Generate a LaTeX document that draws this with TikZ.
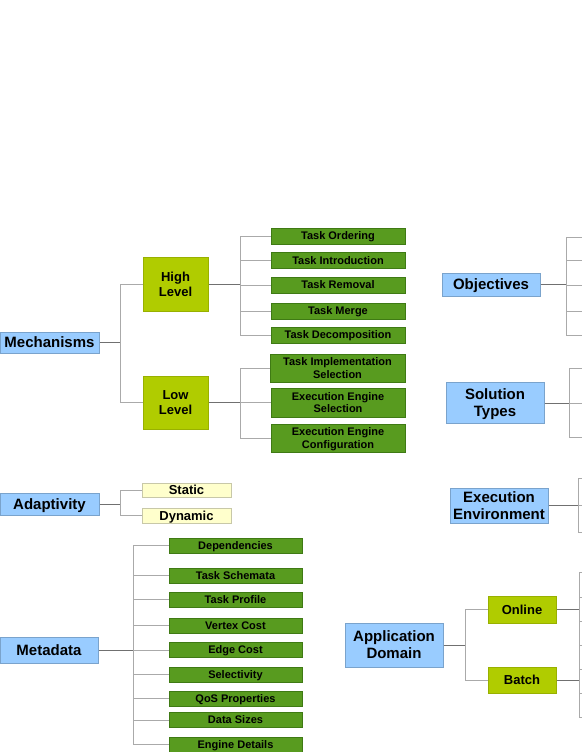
\documentclass[tikz,border=0pt]{standalone}
\usepackage{fontspec}
\setmainfont{Liberation Sans}
\definecolor{bluefill}{HTML}{99CCFF}
\definecolor{blueline}{HTML}{7AA3CC}
\definecolor{limefill}{HTML}{B0CC00}
\definecolor{limeline}{HTML}{98B000}
\definecolor{greenfill}{HTML}{589B1F}
\definecolor{greenline}{HTML}{3F7A14}
\definecolor{yelfill}{HTML}{FFFFCC}
\definecolor{yelline}{HTML}{C8C8A8}
\definecolor{darkconn}{HTML}{707070}
\definecolor{lightconn}{HTML}{AAAAAA}
\tikzset{
  box/.style={draw, line width=1pt, inner sep=0pt, align=center, text=black, text depth=0pt},
  topbox/.style={box, fill=bluefill, draw=blueline, font=\fontsize{15}{17}\selectfont\bfseries},
  midbox/.style={box, fill=limefill, draw=limeline, font=\fontsize{13}{15}\selectfont\bfseries},
  leafbox/.style={box, fill=greenfill, draw=greenline, font=\fontsize{11}{12.7}\selectfont\bfseries},
  yelbox/.style={box, fill=yelfill, draw=yelline, font=\fontsize{13}{15}\selectfont\bfseries},
  oneline15/.style={text height=10.7pt},
  oneline13/.style={text height=9.3pt},
  oneline11/.style={text height=7.9pt},
  parentconn/.style={draw=darkconn, line width=1pt},
  busconn/.style={draw=lightconn, line width=1pt},
}
\begin{document}
\begin{tikzpicture}[x=1pt,y=-1pt]
\useasboundingbox (0,0) rectangle (581,752);
\fill[white] (0,0) rectangle (581,752);

% ---------- Mechanisms ----------
\node[topbox, oneline15, minimum width=99pt, minimum height=21pt] (mech) at (49.5,342.5) {Mechanisms};
\node[midbox, minimum width=65pt, minimum height=54pt] (high) at (175.5,284) {High\\Level};
\node[midbox, minimum width=65pt, minimum height=53pt] (low) at (175.5,402.5) {Low\\Level};
\node[leafbox, oneline11, minimum width=134pt, minimum height=16pt] (h1) at (338,236) {Task Ordering};
\node[leafbox, oneline11, minimum width=134pt, minimum height=16pt] (h2) at (338,260.5) {Task Introduction};
\node[leafbox, oneline11, minimum width=134pt, minimum height=16pt] (h3) at (338,285) {Task Removal};
\node[leafbox, oneline11, minimum width=134pt, minimum height=16pt] (h4) at (338,311) {Task Merge};
\node[leafbox, oneline11, minimum width=134pt, minimum height=16pt] (h5) at (338,335) {Task Decomposition};
\node[leafbox, minimum width=135pt, minimum height=28pt] (l1) at (337.5,368) {Task Implementation\\Selection};
\node[leafbox, minimum width=134pt, minimum height=29pt] (l2) at (338,402.5) {Execution Engine\\Selection};
\node[leafbox, minimum width=134pt, minimum height=28pt] (l3) at (338,438) {Execution Engine\\Configuration};

\coordinate (mechbus) at (120,342.5);
\draw[parentconn] (mech.east) -- (mechbus);
\draw[busconn] (mechbus) |- (high.west);
\draw[busconn] (mechbus) |- (low.west);
\coordinate (highbus) at (240,284);
\draw[parentconn] (high.east) -- (highbus);
\foreach \c in {h1,h2,h3,h4,h5} \draw[busconn] (highbus) |- (\c.west);
\coordinate (lowbus) at (240,402.5);
\draw[parentconn] (low.east) -- (lowbus);
\foreach \c in {l1,l2,l3} \draw[busconn] (lowbus) |- (\c.west);

% ---------- Adaptivity ----------
\node[topbox, oneline15, minimum width=99pt, minimum height=22pt] (adap) at (49.5,504) {Adaptivity};
\node[yelbox, oneline13, minimum width=89pt, minimum height=14pt] (stat) at (186.5,490) {Static};
\node[yelbox, oneline13, minimum width=89pt, minimum height=15pt] (dyn) at (186.5,515.5) {Dynamic};
\coordinate (adapbus) at (120,504);
\draw[parentconn] (adap.east) -- (adapbus);
\draw[busconn] (adapbus) |- (stat.west);
\draw[busconn] (adapbus) |- (dyn.west);

% ---------- Metadata ----------
\node[topbox, oneline15, minimum width=98pt, minimum height=26pt] (meta) at (49,650) {Metadata};
\node[leafbox, oneline11, minimum width=133pt, minimum height=15pt] (m1) at (235.5,545.5) {Dependencies};
\node[leafbox, oneline11, minimum width=133pt, minimum height=15pt] (m2) at (235.5,575.5) {Task Schemata};
\node[leafbox, oneline11, minimum width=133pt, minimum height=15pt] (m3) at (235.5,599.5) {Task Profile};
\node[leafbox, oneline11, minimum width=133pt, minimum height=15pt] (m4) at (235.5,625.5) {Vertex Cost};
\node[leafbox, oneline11, minimum width=133pt, minimum height=15pt] (m5) at (235.5,650) {Edge Cost};
\node[leafbox, oneline11, minimum width=133pt, minimum height=15pt] (m6) at (235.5,674.5) {Selectivity};
\node[leafbox, oneline11, minimum width=133pt, minimum height=15pt] (m7) at (235.5,698.5) {QoS Properties};
\node[leafbox, oneline11, minimum width=133pt, minimum height=15pt] (m8) at (235.5,720) {Data Sizes};
\node[leafbox, oneline11, minimum width=133pt, minimum height=15pt] (m9) at (235.5,744.5) {Engine Details};
\coordinate (metabus) at (133,650);
\draw[parentconn] (meta.east) -- (metabus);
\foreach \c in {m1,m2,m3,m4,m5,m6,m7,m8,m9} \draw[busconn] (metabus) |- (\c.west);

% ---------- Objectives ----------
\node[topbox, oneline15, minimum width=98pt, minimum height=23pt] (obj) at (491,284.5) {Objectives};
\coordinate (objbus) at (566,284.5);
\coordinate (o1) at (590,237);
\coordinate (o2) at (590,260);
\coordinate (o3) at (590,285);
\coordinate (o4) at (590,311);
\coordinate (o5) at (590,335);
\draw[parentconn] (obj.east) -- (objbus);
\foreach \c in {o1,o2,o3,o4,o5} \draw[busconn] (objbus) |- (\c);

% ---------- Solution Types ----------
\node[topbox, minimum width=98pt, minimum height=41pt] (sol) at (495,403) {Solution\\Types};
\coordinate (solbus) at (569,403);
\coordinate (s1) at (590,368);
\coordinate (s2) at (590,403);
\coordinate (s3) at (590,437);
\draw[parentconn] (sol.east) -- (solbus);
\foreach \c in {s1,s2,s3} \draw[busconn] (solbus) |- (\c);

% ---------- Execution Environment ----------
\node[topbox, minimum width=98pt, minimum height=35pt] (exe) at (499,505.5) {Execution\\Environment};
\coordinate (exebus) at (578,505.5);
\coordinate (e1) at (590,478);
\coordinate (e2) at (590,505.5);
\coordinate (e3) at (590,532);
\draw[parentconn] (exe.east) -- (exebus);
\foreach \c in {e1,e2,e3} \draw[busconn] (exebus) |- (\c);

% ---------- Application Domain ----------
\node[topbox, minimum width=98pt, minimum height=44pt] (app) at (394,645) {Application\\Domain};
\node[midbox, oneline13, minimum width=68pt, minimum height=27pt] (onl) at (522,609.5) {Online};
\node[midbox, oneline13, minimum width=68pt, minimum height=26pt] (bat) at (522,680) {Batch};
\coordinate (appbus) at (465,645);
\draw[parentconn] (app.east) -- (appbus);
\draw[busconn] (appbus) |- (onl.west);
\draw[busconn] (appbus) |- (bat.west);
\coordinate (onlbus) at (579,609.5);
\coordinate (batbus) at (579,680);
\coordinate (a1) at (590,572);
\coordinate (a2) at (590,597);
\coordinate (a3) at (590,621);
\coordinate (a4) at (590,645);
\coordinate (a5) at (590,669);
\coordinate (a6) at (590,693);
\coordinate (a7) at (590,717);
\draw[parentconn] (onl.east) -- (onlbus);
\draw[parentconn] (bat.east) -- (batbus);
\foreach \c in {a1,a2,a3,a4} \draw[busconn] (onlbus) |- (\c);
\foreach \c in {a4,a5,a6,a7} \draw[busconn] (batbus) |- (\c);
\end{tikzpicture}
\end{document}
